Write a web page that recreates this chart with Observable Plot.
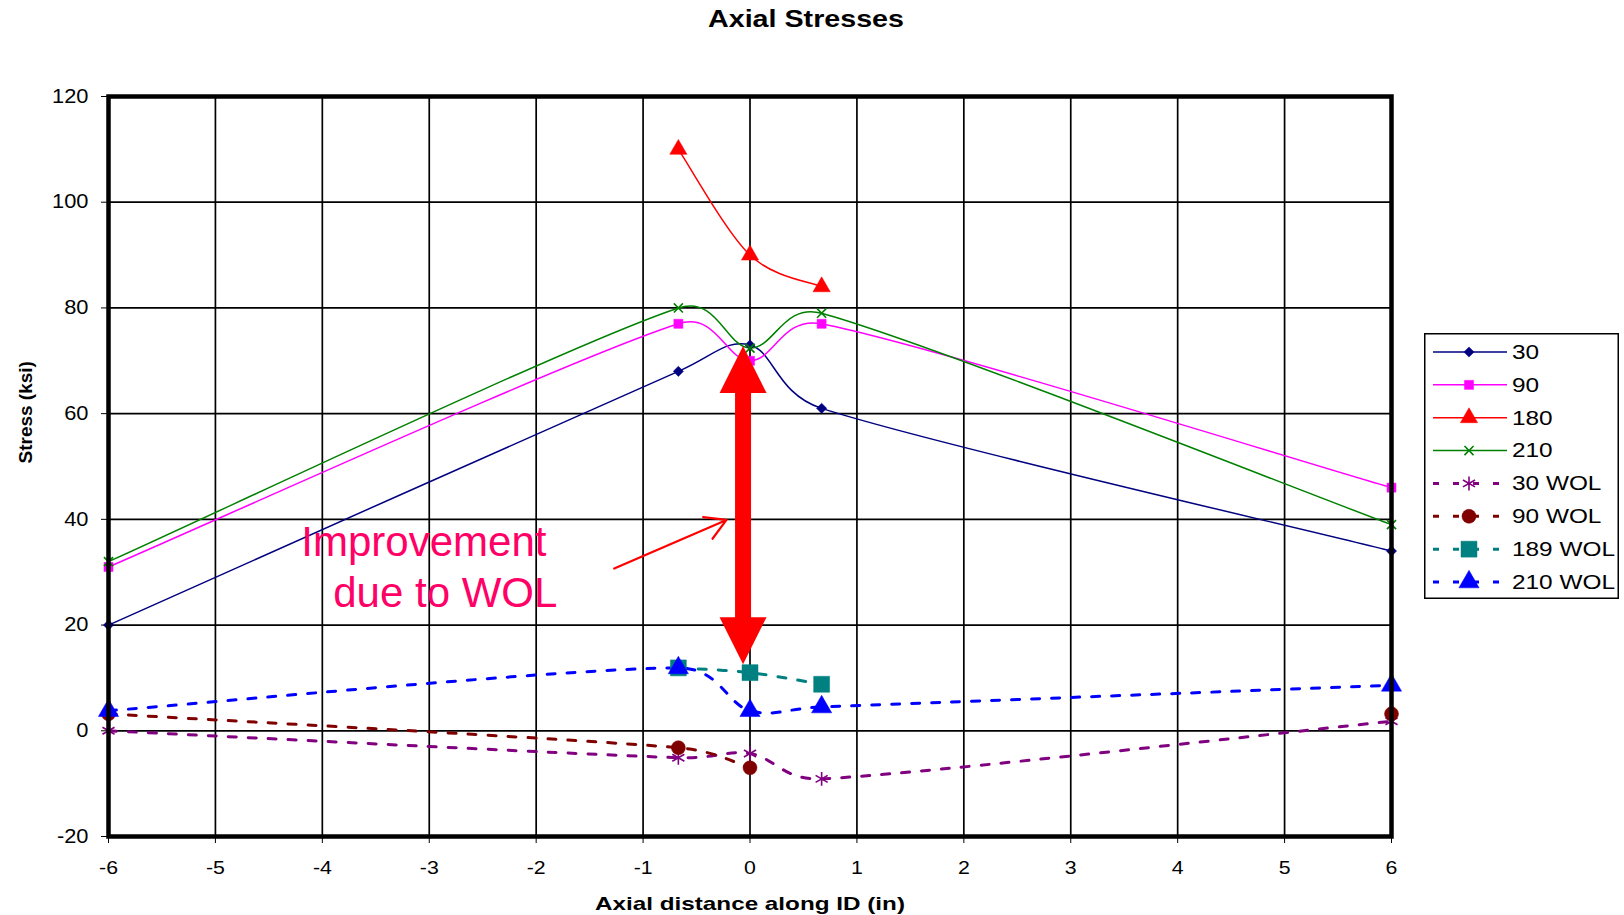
<!DOCTYPE html>
<html><head><meta charset="utf-8">
<script src="https://cdn.jsdelivr.net/npm/d3@7"></script>
<script src="https://cdn.jsdelivr.net/npm/@observablehq/plot@0.6"></script>
<style>
body{margin:0;background:#fff;}
#wrap{position:relative;width:1624px;height:915px;font-family:"Liberation Sans",Arial,sans-serif;}
#legend{position:absolute;left:1424px;top:333px;}
</style></head><body><div id="wrap"></div>
<script>
// ---- data ----
const xPositions = [-6, -0.67, 0, 0.67, 6];
const s30     = [20, 68, 73, 61, 34];
const s90     = [31, 77, 70, 77, 46];
const s180    = [null, 110, 90, 84, null];
const s210    = [32, 80, 72.4, 79, 39];
const s30WOL  = [0, -5.1, -4.3, -9.1, 1.8];
const s90WOL  = [3.2, -3.2, -7, null, 3.2];
const s189WOL = [null, 11.9, 11, 8.8, null];
const s210WOL = [3.8, 11.9, 3.8, 4.5, 8.6];
const seriesNames = ["30", "90", "180", "210", "30 WOL", "90 WOL", "189 WOL", "210 WOL"];
const seriesValues = [s30, s90, s180, s210, s30WOL, s90WOL, s189WOL, s210WOL];
const xTicks = [-6, -5, -4, -3, -2, -1, 0, 1, 2, 3, 4, 5, 6];
const yTicks = [-20, 0, 20, 40, 60, 80, 100, 120];
const titleText = "Axial Stresses";
const xLabel = "Axial distance along ID (in)";
const yLabel = "Stress (ksi)";
// annotation (data units)
const bigArrow = {x: -0.065, yTop: 72.8, yBottom: 12.6};
const noteArrow = [{x1: -1.27, y1: 30.7, x2: -0.22, y2: 39.9}];
const noteLines = [
  {text: "Improvement", x: -3.05, y: 33.1},
  {text: "due to WOL", x: -2.85, y: 23.4}
];

// ---- styles ----
const styles = {
  "30":      {color: "#000080", dash: null, width: 1.5, symbol: "diamond2", r: 4.6, filled: true},
  "90":      {color: "#FF00FF", dash: null, width: 1.5, symbol: "square", r: 5.1, filled: true},
  "180":     {color: "#FF0000", dash: null, width: 1.5, symbol: "triangle", r: 6.4, filled: true},
  "210":     {color: "#008000", dash: null, width: 1.5, symbol: "times", r: 4.2, filled: false},
  "30 WOL":  {color: "#800080", dash: "8,12", width: 3, symbol: "asterisk", r: 6.6, filled: false},
  "90 WOL":  {color: "#800000", dash: "8,12", width: 3, symbol: "circle", r: 7, filled: true},
  "189 WOL": {color: "#008080", dash: "8,12", width: 3, symbol: "square", r: 9, filled: true},
  "210 WOL": {color: "#0000FF", dash: "8,12", width: 3, symbol: "triangle", r: 7.5, filled: true}
};
const font = '"Liberation Sans", Arial, sans-serif';

// Excel-like smoothed line: Bezier with 1/6 tangents, arms limited to half the segment
function excelCurve(context) {
  let pts;
  return {
    areaStart() {}, areaEnd() {},
    lineStart() { pts = []; },
    point(x, y) { pts.push([+x, +y]); },
    lineEnd() {
      const n = pts.length;
      if (!n) return;
      context.moveTo(pts[0][0], pts[0][1]);
      if (n === 2) { context.lineTo(pts[1][0], pts[1][1]); return; }
      for (let i = 0; i < n - 1; i++) {
        const p0 = pts[Math.max(i - 1, 0)], p1 = pts[i], p2 = pts[i + 1], p3 = pts[Math.min(i + 2, n - 1)];
        const seg = Math.hypot(p2[0] - p1[0], p2[1] - p1[1]);
        let t1 = [(p2[0] - p0[0]) / 6, (p2[1] - p0[1]) / 6];
        let t2 = [(p3[0] - p1[0]) / 6, (p3[1] - p1[1]) / 6];
        const l1 = Math.hypot(t1[0], t1[1]), l2 = Math.hypot(t2[0], t2[1]);
        if (l1 > seg / 2) t1 = t1.map(v => v * seg / 2 / l1);
        if (l2 > seg / 2) t2 = t2.map(v => v * seg / 2 / l2);
        context.bezierCurveTo(p1[0] + t1[0], p1[1] + t1[1], p2[0] - t2[0], p2[1] - t2[1], p2[0], p2[1]);
      }
    }
  };
}

// tip-anchored arrowhead symbol (tip at the point, base below)
const headSymbol = {
  draw(ctx, size) {
    const s = Math.sqrt(size);
    ctx.moveTo(0, 0);
    ctx.lineTo(s / 2, s);
    ctx.lineTo(-s / 2, s);
    ctx.closePath();
  }
};

// ---- table ----
const table = [];
seriesNames.forEach((name, i) => {
  xPositions.forEach((x, j) => table.push({series: name, x, y: seriesValues[i][j]}));
});

const marks = [
  Plot.gridX(xTicks, {stroke: "#000", strokeOpacity: 1, strokeWidth: 1.7}),
  Plot.gridY(yTicks, {stroke: "#000", strokeOpacity: 1, strokeWidth: 1.7}),
  Plot.axisX(xTicks, {tickSize: 7, tickPadding: 17, fontSize: 19, label: null, tickFormat: d => String(d), stroke: "#000"}),
  Plot.axisY(yTicks, {tickSize: 7, tickPadding: 13, fontSize: 19.5, label: null, tickFormat: d => String(d), stroke: "#000"}),
];

seriesNames.forEach(name => {
  const st = styles[name];
  const rows = table.filter(d => d.series === name);
  marks.push(Plot.line(rows, {
    x: "x", y: "y", stroke: st.color, strokeWidth: st.width,
    strokeDasharray: st.dash || undefined, curve: excelCurve
  }));
});
seriesNames.forEach(name => {
  const st = styles[name];
  const rows = table.filter(d => d.series === name && d.y != null);
  marks.push(Plot.dot(rows, {
    x: "x", y: "y", symbol: st.symbol, r: st.r,
    fill: st.filled ? st.color : "none",
    stroke: st.color, strokeWidth: st.filled ? 0.5 : 1.6
  }));
});

// annotation
marks.push(
  Plot.ruleX([bigArrow], {x: "x", y1: "yTop", y2: "yBottom", stroke: "#FF0000", strokeWidth: 16, insetTop: 30, insetBottom: 30}),
  Plot.dot([bigArrow], {x: "x", y: "yTop", symbol: headSymbol, r: 47 / Math.sqrt(Math.PI), fill: "#FF0000", stroke: "none"}),
  Plot.dot([bigArrow], {x: "x", y: "yBottom", symbol: headSymbol, r: 47 / Math.sqrt(Math.PI), fill: "#FF0000", stroke: "none", rotate: 180}),
  Plot.arrow(noteArrow, {x1: "x1", y1: "y1", x2: "x2", y2: "y2", stroke: "#FF0000", strokeWidth: 2.2, headLength: 16, bend: 0}),
  Plot.text(noteLines, {x: "x", y: "y", text: "text", fill: "#FF0066", fontSize: 42, textAnchor: "middle", lineAnchor: "bottom", fontFamily: font}),
  Plot.frame({stroke: "#000", strokeWidth: 4.5}),
  Plot.text([titleText], {frameAnchor: "top", dx: 56, dy: -77, fontSize: 24, fontWeight: "bold", fill: "#000", fontFamily: font, lineAnchor: "middle"}),
  Plot.text([xLabel], {frameAnchor: "bottom", dy: 67, fontSize: 19, fontWeight: "bold", fill: "#000", fontFamily: font, lineAnchor: "middle"}),
  Plot.text([yLabel], {frameAnchor: "left", dx: -83, dy: -3, rotate: -90, fontSize: 19, fontWeight: "bold", fill: "#000", fontFamily: font, lineAnchor: "middle"})
);

const chart = Plot.plot({
  width: 1624, height: 915,
  marginLeft: 108, marginRight: 233, marginTop: 96, marginBottom: 79,
  style: {fontFamily: font, background: "#fff", color: "#000", overflow: "visible"},
  x: {domain: [-6, 6]},
  y: {domain: [-20, 120]},
  marks
});
const wrap = document.getElementById("wrap");
wrap.appendChild(chart);

// the original picture is horizontally stretched: widen its texts to match
function stretch(sel, factor, fixed) {
  sel.each(function () {
    const w = fixed || this.getComputedTextLength() * factor;
    this.setAttribute("textLength", w);
    this.setAttribute("lengthAdjust", "spacingAndGlyphs");
  });
}
const svg = d3.select(chart);
stretch(svg.selectAll('g[aria-label="x-axis tick label"] text, g[aria-label="y-axis tick label"] text'), 1.12);
stretch(svg.selectAll("text").filter(function () { return this.textContent === titleText; }), 1, 196);
stretch(svg.selectAll("text").filter(function () { return this.textContent === xLabel; }), 1, 310);

// ---- legend ----
const lw = 195, lh = 266;
const leg = d3.select(wrap).append("svg").attr("id", "legend").attr("width", lw).attr("height", lh);
leg.append("rect").attr("x", 0.75).attr("y", 0.75).attr("width", lw - 1.5).attr("height", lh - 1.5)
  .attr("fill", "#fff").attr("stroke", "#000").attr("stroke-width", 1.5);
const symbolMap = {diamond2: d3.symbolDiamond2, square: d3.symbolSquare, triangle: d3.symbolTriangle,
  times: d3.symbolTimes, asterisk: d3.symbolAsterisk, circle: d3.symbolCircle};
seriesNames.forEach((name, i) => {
  const st = styles[name];
  const g = leg.append("g").attr("transform", `translate(0,${19 + i * 32.86})`);
  g.append("line").attr("x1", 9).attr("x2", 83).attr("y1", 0).attr("y2", 0)
    .attr("stroke", st.color).attr("stroke-width", st.dash ? 3 : 1.5)
    .attr("stroke-dasharray", st.dash ? "6,14" : null);
  g.append("path").attr("transform", "translate(45,0)")
    .attr("d", d3.symbol(symbolMap[st.symbol], st.r * st.r * Math.PI)())
    .attr("fill", st.filled ? st.color : "none").attr("stroke", st.color)
    .attr("stroke-width", st.filled ? 0.5 : 1.6);
  g.append("text").attr("x", 88).attr("y", 0).attr("dy", "0.35em")
    .attr("font-size", 19.5).attr("font-family", font).attr("fill", "#000").text(name);
});
stretch(leg.selectAll("text"), 1.25);
</script></body></html>
